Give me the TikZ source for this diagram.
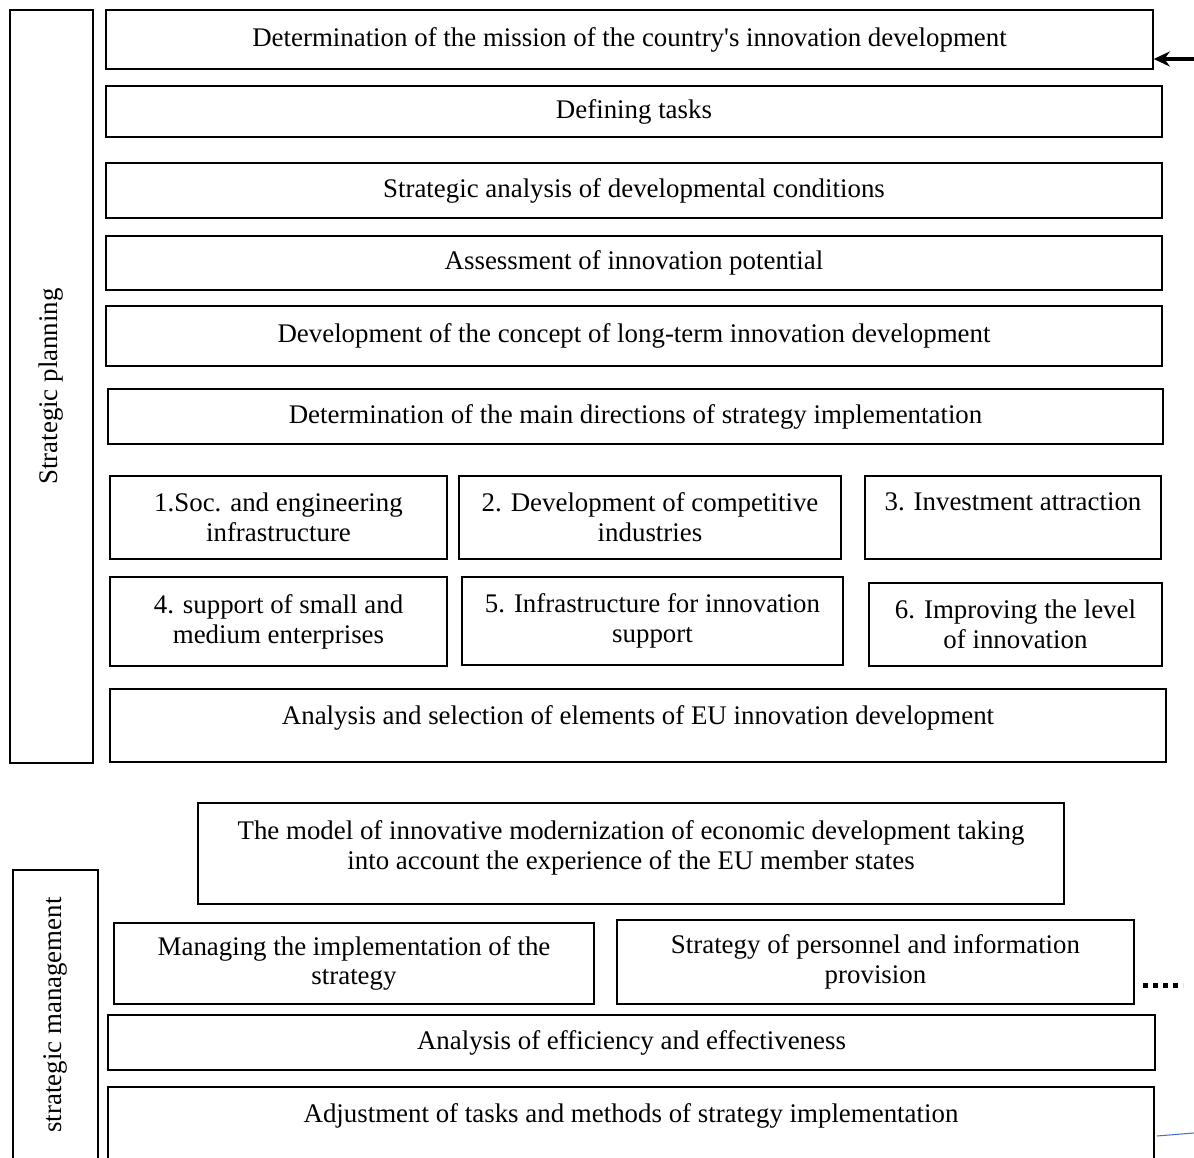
\documentclass[tikz,border=0pt]{standalone}
\usepackage{fontspec}
\setmainfont{Liberation Serif}
\usetikzlibrary{arrows.meta, positioning}
\definecolor{linkblue}{RGB}{68, 114, 196}

\tikzset{
  stage/.style={draw, line width=1pt, inner sep=0pt, align=center, font=\fontsize{15.3}{17}\selectfont},
  sidebar/.style={stage, rotate=90},
}

\begin{document}
\begin{tikzpicture}[x=0.02cm, y=-0.02cm]
  \useasboundingbox (0,0) rectangle (1194,1158);

  % strategic planning
  \node[sidebar, minimum width=15.06cm, minimum height=1.66cm] (planning) at (51.5,386.5) {Strategic planning};

  \node[stage, minimum width=20.94cm, minimum height=1.18cm] (mission) at (629.5,39.5) {Determination of the mission of the country\textquotesingle s innovation development};
  \node[stage, minimum width=21.12cm, minimum height=1.02cm] (tasks) at (634,111.5) {Defining tasks};
  \node[stage, minimum width=21.12cm, minimum height=1.10cm] (analysis) at (634,190.5) {Strategic analysis of developmental conditions};
  \node[stage, minimum width=21.12cm, minimum height=1.08cm] (potential) at (634,263) {Assessment of innovation potential};
  \node[stage, minimum width=21.12cm, minimum height=1.20cm] (concept) at (634,336) {Development of the concept of long-term innovation development};
  \node[stage, minimum width=21.10cm, minimum height=1.10cm] (directions) at (635.5,416.5) {Determination of the main directions of strategy implementation};

  \node[stage, minimum width=6.74cm, minimum height=1.66cm] (dirA) at (278.5,517.5) {1.Soc. and engineering\\infrastructure};
  \node[stage, minimum width=7.64cm, minimum height=1.66cm] (dirB) at (650,517.5) {2. Development of competitive\\industries};
  \node[stage, minimum width=5.92cm, minimum height=1.66cm, text depth=18pt] (dirC) at (1013,517.5) {3. Investment attraction};
  \node[stage, minimum width=6.74cm, minimum height=1.78cm] (dirD) at (278.5,621.5) {4. support of small and\\medium enterprises};
  \node[stage, minimum width=7.62cm, minimum height=1.76cm] (dirE) at (652.5,621) {5. Infrastructure for innovation\\support};
  \node[stage, minimum width=5.86cm, minimum height=1.66cm] (dirF) at (1015.5,624.5) {6. Improving the level\\of innovation};

  \node[stage, minimum width=21.12cm, minimum height=1.46cm, text depth=12.3pt] (euelements) at (638,725.5) {Analysis and selection of elements of EU innovation development};

  \coordinate (feedin) at (1194,59);
  \draw[-{Stealth[length=0.32cm, width=0.3cm]}, line width=2pt] (feedin) -- (feedin -| mission.east);

  % strategic management
  \node[stage, minimum width=17.32cm, minimum height=2.02cm, text depth=10pt] (model) at (631,853.5) {The model of innovative modernization of economic development taking\\into account the experience of the EU member states};

  \node[sidebar, minimum width=5.8cm, minimum height=1.7cm] (management) at (55.5,1015) {strategic management};

  \node[stage, minimum width=9.6cm, minimum height=1.62cm] (managing) at (354,963.5) {Managing the implementation of the\\strategy};
  \node[stage, minimum width=10.34cm, minimum height=1.68cm] (personnel) at (875.5,962) {Strategy of personnel and information\\provision};
  \node[stage, minimum width=20.94cm, minimum height=1.10cm] (efficiency) at (631.5,1042.5) {Analysis of efficiency and effectiveness};
  \node[stage, minimum width=20.92cm, minimum height=1.50cm, text depth=13.3pt] (adjust) at (631,1124.5) {Adjustment of tasks and methods of strategy implementation};

  \coordinate (more) at (1143,985);
  \draw[line width=0.1cm, dash pattern=on 0.1cm off 0.1cm] (more) -- ++(40,0);

  \coordinate (tailA) at (1157,1136);
  \coordinate (tailB) at (1194,1133);
  \draw[linkblue, line width=0.6pt] (tailA) -- (tailB);
\end{tikzpicture}
\end{document}
